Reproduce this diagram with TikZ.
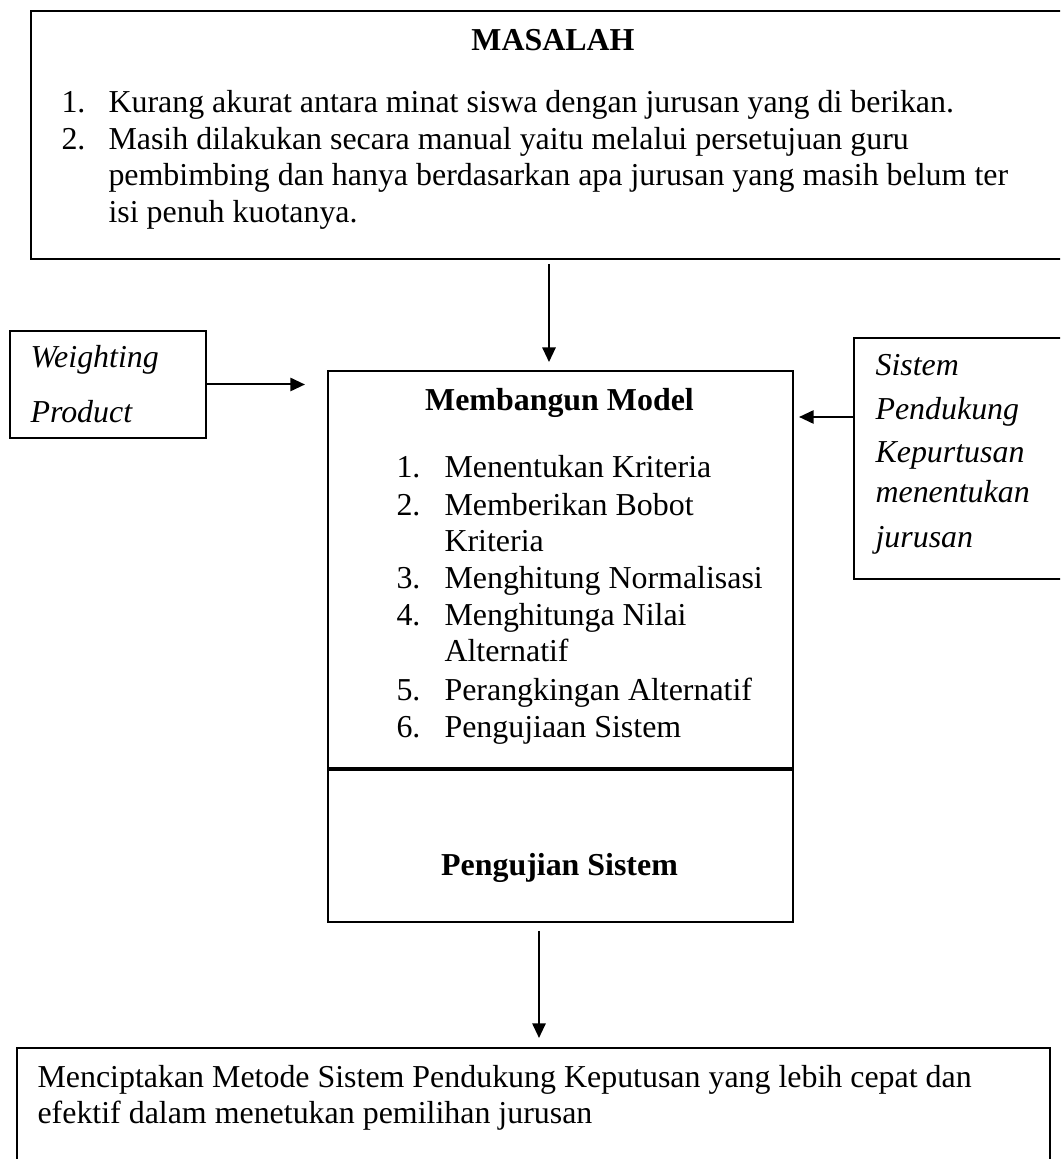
\documentclass[tikz,border=0pt]{standalone}
\usepackage{fontspec}
\setmainfont{Liberation Serif}
\usepackage{tikz}
\usetikzlibrary{arrows.meta, positioning, calc}

\begin{document}
\begin{tikzpicture}[
    x=0.376pt, y=-0.376pt,
    % plain black boxes, sized in picture units
    box/.style={rectangle, draw=black, line width=0.75pt, inner sep=0pt, anchor=north west},
    arrow/.style={-{Triangle[length=5.5pt, width=5pt]}, line width=0.75pt, color=black},
    txt/.style={inner sep=0pt, anchor=base west, font=\fontsize{12pt}{13.8pt}\selectfont},
    title/.style={txt, anchor=base, font=\fontsize{12pt}{13.8pt}\selectfont\bfseries},
    slanted/.style={txt, font=\fontsize{12pt}{13.8pt}\selectfont\itshape}
]

\useasboundingbox (0,0) rectangle (1060,1159);
\clip (0,0) rectangle (1060,1159);

% =========================================================
% BOXES
% =========================================================
\node[box, minimum width=1045*0.376pt, minimum height=248*0.376pt] (masalah) at (30,10) {};
\node[box, minimum width=196*0.376pt, minimum height=107*0.376pt] (weighting) at (9,330) {};
\node[box, minimum width=465*0.376pt, minimum height=397*0.376pt] (model) at (327,370) {};
\node[box, minimum width=465*0.376pt, minimum height=152*0.376pt] (ujisistem) at (model.south west) {};
\node[box, minimum width=250*0.376pt, minimum height=241*0.376pt] (spk) at (853,337) {};
\node[box, minimum width=1033*0.376pt, minimum height=200*0.376pt] (hasil) at (16,1047) {};

% =========================================================
% MASALAH
% =========================================================
\node[title] (masalahtitle) at (553,51) {MASALAH};
\node[txt] (masnum1) at (61,113) {1.};
\node[txt] (mas1) at (108,113) {Kurang akurat antara minat siswa dengan jurusan yang di berikan.};
\node[txt] (masnum2) at (61,150) {2.};
\node[txt] (mas2a) at (108,150) {Masih dilakukan secara manual yaitu melalui persetujuan guru};
\node[txt] (mas2b) at (108,186) {pembimbing dan hanya berdasarkan apa jurusan yang masih belum ter};
\node[txt] (mas2c) at (108,223) {isi penuh kuotanya.};

% =========================================================
% SIDE INPUTS
% =========================================================
\node[slanted] (wp1) at (30,368) {Weighting};
\node[slanted] (wp2) at (30,423) {Product};

\node[slanted] (spk1) at (875,376) {Sistem};
\node[slanted] (spk2) at (875,420) {Pendukung};
\node[slanted] (spk3) at (875,462) {Kepurtusan};
\node[slanted] (spk4) at (875,503) {menentukan};
\node[slanted] (spk5) at (875,547) {jurusan};

% =========================================================
% MEMBANGUN MODEL
% =========================================================
\node[title] (modeltitle) at (559.5,411) {Membangun Model};
\node[txt] (modnum1) at (396,478) {1.};
\node[txt] (mod1) at (444,478) {Menentukan Kriteria};
\node[txt] (modnum2) at (396,515) {2.};
\node[txt] (mod2a) at (444,515) {Memberikan Bobot};
\node[txt] (mod2b) at (444,551) {Kriteria};
\node[txt] (modnum3) at (396,588) {3.};
\node[txt] (mod3) at (444,588) {Menghitung Normalisasi};
\node[txt] (modnum4) at (396,625) {4.};
\node[txt] (mod4a) at (444,625) {Menghitunga Nilai};
\node[txt] (mod4b) at (444,661) {Alternatif};
\node[txt] (modnum5) at (396,700) {5.};
\node[txt] (mod5) at (444,700) {Perangkingan Alternatif};
\node[txt] (modnum6) at (396,737) {6.};
\node[txt] (mod6) at (444,737) {Pengujiaan Sistem};

\node[title] (ujititle) at (559.5,875) {Pengujian Sistem};

% =========================================================
% HASIL
% =========================================================
\node[txt] (hasil1) at (37,1087) {Menciptakan Metode Sistem Pendukung Keputusan yang lebih cepat dan};
\node[txt] (hasil2) at (37,1123) {efektif dalam menetukan pemilihan jurusan};

% =========================================================
% CONNECTORS
% =========================================================
\coordinate (topdrop) at ($(masalah.south)+(-4.5,0)$);
\draw[arrow, shorten <=1.5pt, shorten >=3pt] (topdrop) -- (topdrop |- model.north);

\draw[arrow, shorten >=8.3pt] (weighting.east) -- (model.west |- weighting.east);

\coordinate (spkout) at ($(spk.west)+(0,-41.5)$);
\draw[arrow, shorten >=1.9pt] (spkout) -- (model.east |- spkout);

\coordinate (botdrop) at ($(ujisistem.south)+(-21.5,0)$);
\draw[arrow, shorten <=3pt, shorten >=3.4pt] (botdrop) -- (botdrop |- hasil.north);

\end{tikzpicture}
\end{document}
